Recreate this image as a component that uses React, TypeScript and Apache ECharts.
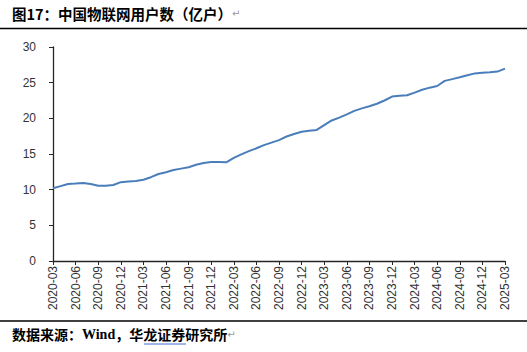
import React, { useEffect, useRef } from "react";
import * as echarts from "echarts";

const months: string[] = [
  "2020-03","2020-04","2020-05","2020-06","2020-07","2020-08","2020-09","2020-10","2020-11","2020-12",
  "2021-01","2021-02","2021-03","2021-04","2021-05","2021-06","2021-07","2021-08","2021-09","2021-10","2021-11","2021-12",
  "2022-01","2022-02","2022-03","2022-04","2022-05","2022-06","2022-07","2022-08","2022-09","2022-10","2022-11","2022-12",
  "2023-01","2023-02","2023-03","2023-04","2023-05","2023-06","2023-07","2023-08","2023-09","2023-10","2023-11","2023-12",
  "2024-01","2024-02","2024-03","2024-04","2024-05","2024-06","2024-07","2024-08","2024-09","2024-10","2024-11","2024-12",
  "2025-01","2025-02","2025-03",
];

const iotUsers: number[] = [
  10.2, 10.5, 10.8, 10.85, 10.95, 10.8, 10.55, 10.55, 10.65, 11.05,
  11.15, 11.22, 11.4, 11.75, 12.2, 12.45, 12.75, 12.95, 13.15, 13.5, 13.75, 13.88,
  13.87, 13.84, 14.45, 14.95, 15.4, 15.8, 16.25, 16.6, 16.95, 17.45, 17.8, 18.13,
  18.25, 18.37, 19.05, 19.7, 20.1, 20.55, 21.05, 21.4, 21.7, 22.05, 22.5, 23.05,
  23.15, 23.23, 23.6, 24.0, 24.3, 24.53, 25.25, 25.5, 25.75, 26.05, 26.3, 26.38,
  26.45, 26.55, 26.96,
];

const yTicks = { min: 0, max: 30, interval: 5 };

const titleText = "图17：中国物联网用户数（亿户）";
const sourceLead = "数据来源：";
const sourceWind = "Wind";
const sourceTail = "，华龙证券研究所";

export default function App() {
  const ref = useRef<HTMLDivElement>(null);
  useEffect(() => {
    if (!ref.current) return;
    const chart = echarts.init(ref.current, null, { renderer: "svg" });
    const cjk = '"Noto Sans CJK SC", sans-serif';
    chart.setOption({
      animation: false,
      backgroundColor: "#ffffff",
      grid: { left: 53, right: 22, top: 47, bottom: 91, containLabel: false },
      xAxis: {
        type: "category",
        data: months,
        boundaryGap: false,
        axisLine: { lineStyle: { color: "#262626", width: 1.3 } },
        axisTick: { show: true, interval: 2, length: 4, inside: false, lineStyle: { color: "#262626" } },
        axisLabel: {
          interval: 2,
          rotate: 90,
          margin: 5,
          fontSize: 12,
          color: "#333333",
          fontFamily: '"Liberation Sans", Arial, sans-serif',
          padding: [13, 0, 0, 0],
        },
        splitLine: { show: false },
      },
      yAxis: {
        type: "value",
        min: yTicks.min,
        max: yTicks.max,
        interval: yTicks.interval,
        axisLine: { show: true, lineStyle: { color: "#262626", width: 1.3 } },
        axisTick: { show: true, length: 4, lineStyle: { color: "#262626" } },
        axisLabel: {
          margin: 17,
          fontSize: 12,
          color: "#333333",
          fontFamily: '"Liberation Sans", Arial, sans-serif',
        },
        splitLine: { show: false },
      },
      series: [
        {
          type: "line",
          data: iotUsers,
          symbol: "none",
          smooth: false,
          lineStyle: { color: "#4a7ebb", width: 2 },
          itemStyle: { color: "#4a7ebb" },
        },
      ],
      graphic: [
        {
          type: "text",
          left: 12,
          top: 6,
          style: {
            text: "{t|" + titleText + "}{r|↵}",
            rich: {
              t: { fontFamily: cjk, fontWeight: "bold", fontSize: 14.5, fill: "#000" },
              r: { fontFamily: '"DejaVu Sans", sans-serif', fontSize: 10, fill: "#999" },
            },
          },
        },
        {
          type: "line",
          shape: { x1: 0, y1: 28.5, x2: 527, y2: 28.5 },
          style: { stroke: "#000", lineWidth: 1.5 },
        },
        {
          type: "line",
          shape: { x1: 0, y1: 321, x2: 527, y2: 321 },
          style: { stroke: "#000", lineWidth: 1.5 },
        },
        {
          type: "text",
          left: 12,
          top: 327,
          style: {
            text:
              "{a|" + sourceLead + "}{b|" + sourceWind + "}{a|" + sourceTail + "}{r|↵}",
            rich: {
              a: { fontFamily: cjk, fontWeight: "bold", fontSize: 14, fill: "#000" },
              b: { fontFamily: '"Liberation Serif", serif', fontWeight: "bold", fontSize: 14, fill: "#000" },
              r: { fontFamily: '"DejaVu Sans", sans-serif', fontSize: 10, fill: "#999" },
            },
          },
        },
        {
          type: "line",
          shape: { x1: 144, y1: 344, x2: 186, y2: 344 },
          style: { stroke: "#3c6fd1", lineWidth: 1 },
        },
      ],
    });
    return () => chart.dispose();
  }, []);
  return (
    <div
      ref={ref}
      style={{ position: "fixed", left: 0, top: 0, width: 527, height: 352 }}
    />
  );
}
